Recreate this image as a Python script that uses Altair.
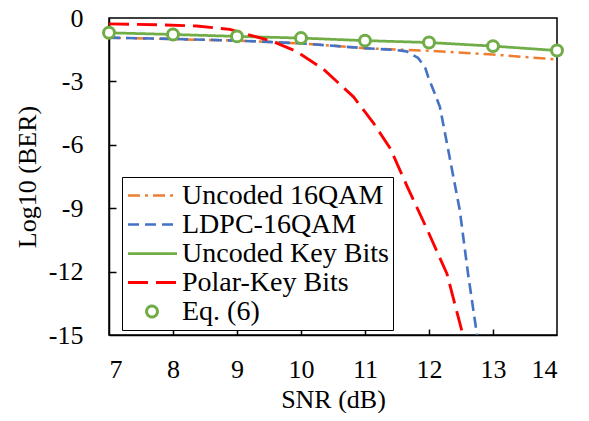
import altair as alt
import pandas as pd

# ---- data ----
series_names = ["Uncoded 16QAM", "LDPC-16QAM", "Uncoded Key Bits", "Polar-Key Bits", "Eq. (6)"]

snr_grid = [7, 8, 9, 10, 11, 12, 13, 14]
uncoded_16qam = [-0.93, -1.00, -1.07, -1.20, -1.43, -1.55, -1.73, -1.96]

ldpc_snr = [7, 8, 9, 10, 11, 11.5, 11.65, 11.83, 11.94, 11.99, 12.07, 12.17, 12.30, 12.48, 12.61, 12.75]
ldpc_16qam = [-0.93, -0.99, -1.07, -1.20, -1.43, -1.52, -1.58, -1.89, -2.35, -2.81, -3.42, -4.2, -6.24, -9.08, -12.1, -15.0]

uncoded_key = [-0.70, -0.78, -0.87, -0.95, -1.07, -1.16, -1.33, -1.54]

polar_snr = [7.0, 7.74, 8.37, 8.89, 9.2, 9.57, 9.93, 10.35, 10.82, 11.13, 11.40, 11.66, 11.97, 12.28, 12.53]
polar_key = [-0.28, -0.32, -0.38, -0.54, -0.81, -1.12, -1.58, -2.42, -3.73, -4.96, -6.2, -7.98, -10.0, -12.1, -15.0]

eq6_snr = [7, 8, 9, 10, 11, 12, 13, 14]
eq6 = [-0.70, -0.78, -0.87, -0.95, -1.07, -1.16, -1.33, -1.54]

y_ticks = [0, -3, -6, -9, -12, -15]
x_ticks = [7, 8, 9, 10, 11, 12, 13, 14]

# ---- styles ----
colors = ["#ED7D31", "#4472C4", "#70AD47", "#FF0000", "#70AD47"]
dashes = [[12, 5, 3, 5], [11, 6], [1, 0], [20, 8], [1, 0]]
widths = [2.5, 3, 3, 3.5, 2]
FONT = "Liberation Serif"

rows = []
for s, v in zip(snr_grid, uncoded_16qam):
    rows.append({"snr": s, "ber": v, "series": series_names[0]})
for s, v in zip(ldpc_snr, ldpc_16qam):
    rows.append({"snr": s, "ber": v, "series": series_names[1]})
for s, v in zip(snr_grid, uncoded_key):
    rows.append({"snr": s, "ber": v, "series": series_names[2]})
for s, v in zip(polar_snr, polar_key):
    rows.append({"snr": s, "ber": v, "series": series_names[3]})
lines_df = pd.DataFrame(rows)
points_df = pd.DataFrame({"snr": eq6_snr, "ber": eq6, "series": series_names[4]})

PW, PH = 448, 317
x_scale = alt.Scale(domain=[7, 14], nice=False, zero=False)
y_scale = alt.Scale(domain=[-15, 0], nice=False, zero=False)

# legend symbols: custom paths in unit coords (scaled by sqrt(symbolSize)/2 = 13 px)
line_sym = "M-0.96,0L2.81,0"
ring_sym = "M1.305,0A0.42,0.42,0,1,1,0.465,0A0.42,0.42,0,1,1,1.305,0Z"
legend = alt.Legend(
    title=None, orient="none", legendX=13, legendY=159,
    symbolType={"expr": "datum.value === 'Eq. (6)' ? '" + ring_sym + "' : '" + line_sym + "'"},
    symbolSize=676, symbolStrokeWidth=3,
    labelFont=FONT, labelFontSize=28, labelColor="black", labelOffset=27,
    strokeColor="black", fillColor="white", padding=4, rowPadding=0,
    labelLimit=400,
)

color_enc = alt.Color("series:N", scale=alt.Scale(domain=series_names, range=colors), legend=legend)

main_x_axis = alt.Axis(values=x_ticks, ticks=False, tickSize=0, grid=False,
                       labelFont=FONT, labelFontSize=26, labelColor="black", labelPadding=21,
                       domainColor="black", domainWidth=1.5,
                       title="SNR (dB)", titleFont=FONT, titleFontSize=26, titleFontWeight="normal",
                       titleColor="black", titlePadding=4)
main_y_axis = alt.Axis(values=y_ticks, ticks=False, tickSize=0, grid=False,
                       labelFont=FONT, labelFontSize=26, labelColor="black", labelPadding=26,
                       labelExpr="'' + datum.value",
                       domainColor="black", domainWidth=1.5,
                       title="Log10 (BER)", titleFont=FONT, titleFontSize=26, titleFontWeight="normal",
                       titleColor="black", titlePadding=8)

lines = alt.Chart(lines_df).mark_line(clip=True).encode(
    x=alt.X("snr:Q", scale=x_scale, axis=main_x_axis),
    y=alt.Y("ber:Q", scale=y_scale, axis=main_y_axis),
    color=color_enc,
    strokeDash=alt.StrokeDash("series:N", scale=alt.Scale(domain=series_names, range=dashes), legend=legend),
    strokeWidth=alt.StrokeWidth("series:N", scale=alt.Scale(domain=series_names, range=widths), legend=None),
    order=alt.Order("snr:Q"),
)

tick_x_axis = alt.Axis(orient="top", offset=-PH, values=[8, 9, 10, 11, 12, 13], labels=False,
                       domain=False, grid=False, ticks=True, tickSize=6, tickColor="black",
                       tickWidth=1.5, title=None)
tick_y_axis = alt.Axis(orient="right", offset=-PW, values=[-3, -6, -9, -12], labels=False,
                       domain=False, grid=False, ticks=True, tickSize=7, tickColor="black",
                       tickWidth=1.5, title=None)

points = alt.Chart(points_df).mark_point(shape="circle", filled=False, fill="white", fillOpacity=1,
                                         size=120, strokeWidth=3, opacity=1).encode(
    x=alt.X("snr:Q", scale=x_scale, axis=tick_x_axis),
    y=alt.Y("ber:Q", scale=y_scale, axis=tick_y_axis),
    color=color_enc,
)

chart = alt.layer(lines, points).resolve_axis(x="independent", y="independent").properties(
    width=PW, height=PH,
    autosize=alt.AutoSizeParams(type="none"),
    padding={"left": 101, "top": 10, "right": 24, "bottom": 78},
).configure(font=FONT).configure_view(stroke="black", strokeWidth=1.5)

chart.save("out.html", embed_options={"renderer": "svg", "actions": False})
